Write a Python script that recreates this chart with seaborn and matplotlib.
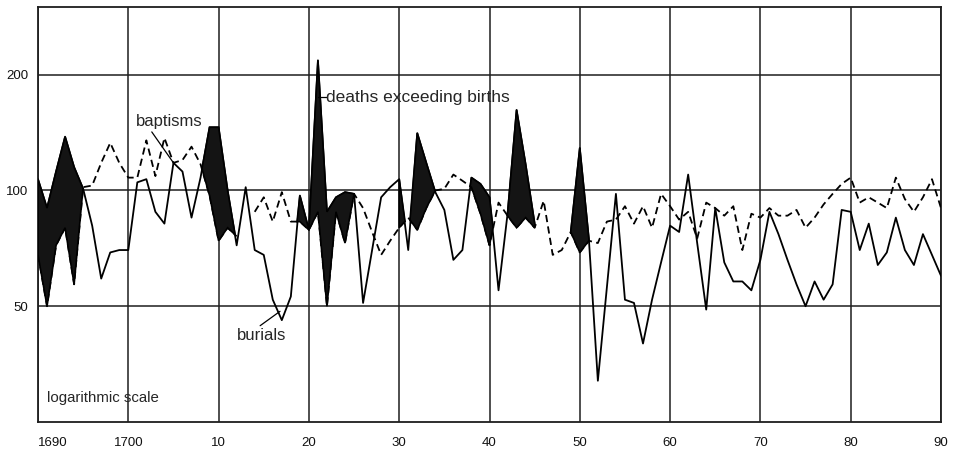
import numpy as np
import pandas as pd
import matplotlib
matplotlib.use('Agg')
import matplotlib.pyplot as plt
from matplotlib.ticker import NullLocator, NullFormatter
import seaborn as sns

# ── Data (log scale) ─────────────────────────────────────────────────
years = list(range(1690, 1791))

burials = [
    107, 90, 112, 138, 115, 101, 81, 59, 69, 70,          # 1690-99
    70, 105, 107, 88, 82, 118, 112, 85, 108, 146,         # 1700-09
    146, 100, 72, 102, 70, 68, 52, 46, 53, 97,            # 1710-19
    79, 218, 88, 96, 99, 98, 51, 70, 96, 102,             # 1720-29
    107, 70, 141, 118, 99, 89, 66, 70, 108, 104,          # 1730-39
    96, 55, 87, 162, 117, 82, np.nan, np.nan, np.nan, 78, # 1740-49
    129, 75, 32, 56, 98, 52, 51, 40, 52, 65,              # 1750-59
    81, 78, 110, 73, 49, 90, 65, 58, 58, 55,              # 1760-69
    66, 88, 77, 66, 57, 50, 58, 52, 57, 89,               # 1770-79
    88, 70, 82, 64, 69, 85, 70, 64, 77, 68,               # 1780-89
    60,                                                    # 1790
]

baptisms = [
    68, 50, 72, 80, 57, 102, 103, 118, 133, 118,          # 1690-99
    108, 108, 135, 109, 137, 118, 120, 130, 117, 97,      # 1700-09
    74, 80, 76, np.nan, 88, 96, 83, 99, 83, 83,           # 1710-19
    79, 88, 50, 88, 73, 98, 90, 78, 68, 74,               # 1720-29
    80, 85, 79, 90, 100, 101, 110, 106, 102, 87,          # 1730-39
    72, 93, 86, 80, 85, 80, 94, 68, 70, 78,               # 1740-49
    69, 74, 73, 83, 84, 91, 82, 91, 80, 98,               # 1750-59
    91, 84, 88, 75, 93, 90, 86, 91, 70, 87,               # 1760-69
    85, 90, 86, 86, 89, 80, 85, 92, 98, 104,              # 1770-79
    108, 93, 96, 93, 90, 108, 95, 88, 96, 107,            # 1780-89
    90,                                                    # 1790
]

# periods shaded as "deaths exceeding births"
shaded_periods = [(1690, 1695), (1708, 1712), (1719, 1725), (1730, 1734),
                  (1737, 1741), (1742, 1745), (1749, 1752)]

y_ticks = [50, 100, 200]
x_ticks = list(range(1690, 1791, 10))
x_tick_labels = ['1690', '1700', '10', '20', '30', '40', '50', '60', '70', '80', '90']

# ── Style ────────────────────────────────────────────────────────────
sns.set_style('white')
plt.rcParams['font.family'] = ['Liberation Sans', 'DejaVu Sans']

df = pd.DataFrame({'year': years, 'burials': burials, 'baptisms': baptisms})


def segments(col):
    """Split a series at gaps so the line breaks where the chart has none."""
    d = df[['year', col]].copy()
    d['seg'] = d[col].isna().cumsum()
    return d.dropna().rename(columns={col: 'value'})


fig = plt.figure(figsize=(9.56, 4.5), dpi=100)
ax = fig.add_axes([38 / 956, 1 - 422 / 450, (941 - 38) / 956, (422 - 7) / 450])
ax.set_yscale('log')

# lines
sns.lineplot(data=segments('baptisms'), x='year', y='value', units='seg',
             estimator=None, color='black', lw=1.3, linestyle=(0, (4, 2.4)),
             ax=ax, legend=False, zorder=3)
sns.lineplot(data=segments('burials'), x='year', y='value', units='seg',
             estimator=None, color='black', lw=1.3, ax=ax, legend=False, zorder=3)

# shaded areas, drawn over the lines with a solid outline
yrs = np.array(years)
bur = np.array(burials, dtype=float)
bap = np.array(baptisms, dtype=float)
in_period = np.zeros(len(yrs), dtype=bool)
for a, b in shaded_periods:
    in_period |= (yrs >= a) & (yrs <= b)
with np.errstate(invalid='ignore'):
    where = in_period & (bur >= bap)
ax.fill_between(yrs, bur, bap, where=where, interpolate=True,
                facecolor='#141414', edgecolor='black', lw=1.2,
                joinstyle='miter', zorder=4)

# axes
ax.set_xlim(1690, 1790)
ax.set_ylim(25, 300)
ax.set_yticks(y_ticks)
ax.set_yticklabels([str(v) for v in y_ticks])
ax.yaxis.set_minor_locator(NullLocator())
ax.yaxis.set_minor_formatter(NullFormatter())
ax.set_xticks(x_ticks)
ax.set_xticklabels(x_tick_labels)
ax.get_xticklabels()[0].set_horizontalalignment('left')
ax.tick_params(length=0, labelsize=9.5, colors='#111111')
ax.tick_params(axis='x', pad=11)
ax.tick_params(axis='y', pad=7)
ax.set_xlabel('')
ax.set_ylabel('')
ax.grid(True, which='major', color='#1e1e1e', lw=1.1)
ax.set_axisbelow(True)
for s in ax.spines.values():
    s.set_color('#1e1e1e')
    s.set_linewidth(1.3)

# annotations
ax.text(1700.8, 151, 'baptisms', fontsize=12, va='center', ha='left')
ax.plot([1702.6, 1705.0], [142, 118], color='black', lw=0.9, zorder=5)
ax.text(1721.9, 175, 'deaths exceeding births', fontsize=12.5, va='center', ha='left')
ax.plot([1721.0, 1721.9], [175, 175], color='black', lw=0.9, zorder=5)
ax.text(1712.0, 42, 'burials', fontsize=12, va='center', ha='left')
ax.plot([1714.6, 1716.8], [44.5, 48.5], color='black', lw=0.9, zorder=5)
ax.text(1691.0, 28.8, 'logarithmic scale', fontsize=10.8, va='center', ha='left')

fig.savefig('out.png', dpi=100, facecolor='white')
